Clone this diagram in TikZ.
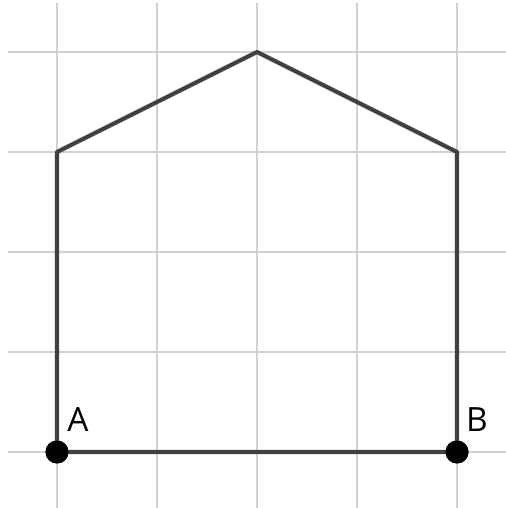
\documentclass[tikz,border=0pt]{standalone}
\usepackage{fontspec}
\setmainfont{Open Sans}
\usetikzlibrary{positioning}

\begin{document}
\begin{tikzpicture}[line cap=round,
    gridline/.style={draw=black!18,line width=0.55pt},
    side/.style={draw=black!75,line width=1.2pt,line join=round},
    pointdot/.style={circle,fill=black,inner sep=0pt,minimum size=0.23cm},
    pointlabel/.style={font=\fontsize{9.5}{11}\selectfont,inner sep=0pt}]
   \useasboundingbox (-0.57,-0.56) rectangle (4.49,4.52);
 %% grid
 \foreach \x in {0,1,2,3,4}
        \draw[gridline,line cap=butt] (\x,-0.56) -- (\x,4.49);
 \foreach \y in {0,1,2,3,4}
        \draw[gridline,line cap=butt] (-0.49,\y) -- (4.49,\y);
 %% the house
   \coordinate (wallA) at (0,3) ;
   \coordinate (roof) at (2,4) ;
   \coordinate (wallB) at (4,3) ;
   \node[pointdot] (A) at (0,0) {};
   \node[pointdot] (B) at (4,0) {};
   \draw[side] (A.center) -- (wallA) -- (roof) -- (wallB) -- (B.center) -- cycle;
   \node[pointdot] at (A) {};
   \node[pointdot] at (B) {};
   \node[pointlabel] (labA) at (0.21,0.32) {A};
   \node[pointlabel] (labB) at (4.20,0.32) {B};
\end{tikzpicture}
\end{document}
